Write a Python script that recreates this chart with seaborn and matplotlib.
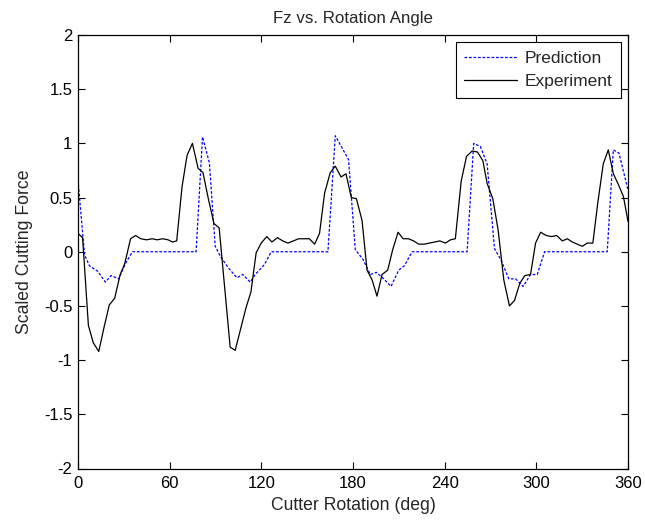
import matplotlib
matplotlib.use("Agg")
import matplotlib.pyplot as plt
import seaborn as sns
import pandas as pd

exp_angle = [0, 3.0, 6.8, 10.0, 13.6, 17.0, 20.5, 24.0, 27.6, 30.6, 34.4, 37.7, 41.1, 44.9,
             48.6, 51.8, 55.5, 59.0, 61.8, 64.6, 68.1, 71.4, 74.9, 78.6, 81.8, 85.3, 89.0,
             92.4, 96.0, 99.6, 102.9, 106.3, 109.9, 113.2, 116.6, 119.9, 123.6, 126.9, 130.6,
             134.0, 137.4, 141.0, 144.4, 147.6, 151.4, 154.9, 158.1, 161.4, 165.1, 168.4,
             172.2, 175.4, 178.9, 182.2, 185.9, 189.2, 192.5, 195.7, 199.0, 202.7, 206.0,
             209.5, 212.8, 216.3, 219.7, 223.0, 226.7, 230.0, 233.5, 236.8, 240.5, 243.8,
             247.0, 250.8, 254.3, 258.0, 261.5, 265.0, 267.8, 271.5, 275.0, 278.7, 282.4,
             285.7, 289.2, 292.5, 296.2, 299.5, 302.8, 306.5, 310.0, 313.3, 317.0, 320.3,
             323.5, 326.8, 330.1, 333.3, 337.0, 340.3, 343.8, 347.1, 350.4, 353.7, 357.0, 360.0]
exp_force = [0.17, 0.13, -0.68, -0.84, -0.92, -0.70, -0.49, -0.43, -0.21, -0.11, 0.12, 0.15,
             0.12, 0.11, 0.12, 0.11, 0.12, 0.11, 0.09, 0.10, 0.60, 0.89, 1.00, 0.77, 0.73,
             0.49, 0.26, 0.22, -0.33, -0.88, -0.91, -0.72, -0.52, -0.37, -0.01, 0.08, 0.14,
             0.09, 0.13, 0.10, 0.08, 0.10, 0.12, 0.12, 0.12, 0.07, 0.17, 0.54, 0.73, 0.79,
             0.69, 0.72, 0.50, 0.49, 0.29, -0.17, -0.26, -0.41, -0.21, -0.17, 0.02, 0.18,
             0.12, 0.12, 0.10, 0.07, 0.07, 0.08, 0.09, 0.10, 0.08, 0.11, 0.12, 0.65, 0.88,
             0.93, 0.92, 0.84, 0.63, 0.49, 0.20, -0.26, -0.50, -0.45, -0.29, -0.22, -0.21,
             0.08, 0.18, 0.15, 0.14, 0.15, 0.10, 0.12, 0.09, 0.07, 0.05, 0.08, 0.08, 0.46,
             0.81, 0.94, 0.72, 0.62, 0.51, 0.28]

pred_angle = [0, 4.3, 7.5, 12.9, 17.9, 21.6, 26.7, 31.0, 35.6, 77.3, 81.5, 86.0, 89.8, 93.5,
              98.5, 104.0, 107.9, 112.7, 116.0, 121.9, 126.5, 163.6, 168.4, 177.1, 181.5,
              186.5, 191.3, 195.3, 200.1, 204.9, 209.9, 213.6, 218.7, 254.7, 259.0, 263.4,
              267.8, 272.6, 277.0, 282.0, 286.4, 291.4, 296.2, 300.6, 305.4, 346.4, 350.4,
              354.1, 360.0]
pred_force = [0.66, -0.03, -0.13, -0.18, -0.28, -0.22, -0.25, -0.11, 0.00, 0.00, 1.06, 0.82,
              0.05, -0.05, -0.15, -0.24, -0.21, -0.28, -0.21, -0.12, 0.00, 0.00, 1.07, 0.85,
              0.02, -0.07, -0.21, -0.19, -0.25, -0.32, -0.17, -0.13, 0.00, 0.00, 1.00, 0.97,
              0.81, 0.03, -0.08, -0.25, -0.25, -0.32, -0.21, -0.21, 0.00, 0.00, 0.94, 0.91,
              0.57]

x_ticks = [0, 60, 120, 180, 240, 300, 360]
y_ticks = [-2, -1.5, -1, -0.5, 0, 0.5, 1, 1.5, 2]
y_tick_labels = ["-2", "-1.5", "-1", "-0.5", "0", "0.5", "1", "1.5", "2"]

sns.set_style("ticks")
plt.rcParams["font.family"] = ["Liberation Sans", "DejaVu Sans"]
plt.rcParams["font.size"] = 12

pred_df = pd.DataFrame({"angle": pred_angle, "force": pred_force})
exp_df = pd.DataFrame({"angle": exp_angle, "force": exp_force})

fig = plt.figure(figsize=(6.45, 5.22), dpi=100)
ax = fig.add_axes([78 / 645, 1 - 468.5 / 522, 550 / 645, 433.5 / 522])

sns.lineplot(data=pred_df, x="angle", y="force", ax=ax, sort=False, estimator=None,
             color="#0000ff", linewidth=0.9, linestyle=(0, (2.2, 1.4)), label="Prediction")
sns.lineplot(data=exp_df, x="angle", y="force", ax=ax, sort=False, estimator=None,
             color="black", linewidth=0.9, label="Experiment")

ax.set_xlim(0, 360)
ax.set_ylim(-2, 2)
ax.set_xticks(x_ticks)
ax.set_xticklabels([str(t) for t in x_ticks])
ax.set_yticks(y_ticks)
ax.set_yticklabels(y_tick_labels)
ax.tick_params(direction="in", length=5, width=0.8, top=True, right=True,
               labelsize=12, colors="black")
ax.tick_params(axis="x", pad=5.5)
ax.tick_params(axis="y", pad=4)
for s in ax.spines.values():
    s.set_visible(True)
    s.set_linewidth(0.9)
    s.set_color("black")

ax.set_title("Fz vs. Rotation Angle", fontsize=12.2, pad=9)
ax.set_xlabel("Cutter Rotation (deg)", fontsize=12.7, labelpad=4)
ax.set_ylabel("Scaled Cutting Force", fontsize=12.7, labelpad=8)

leg = ax.legend(loc="upper right", fontsize=12.5, frameon=True, fancybox=False,
                edgecolor="black", framealpha=1, borderaxespad=0.42,
                handlelength=3.05, handletextpad=0.4, borderpad=0.5, labelspacing=0.45)
leg.get_frame().set_linewidth(0.8)

fig.savefig("out.png", dpi=100)
